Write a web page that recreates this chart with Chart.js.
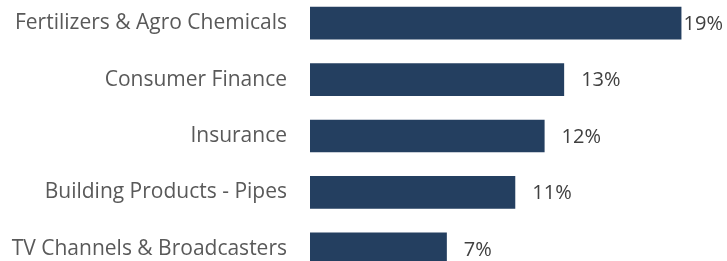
<!DOCTYPE html>
<html>
<head>
<meta charset="utf-8">
<script src="https://cdn.jsdelivr.net/npm/chart.js@4"></script>
<style>
    html, body { margin: 0; padding: 0; background: #fff; overflow: hidden; }
    #wrap { position: relative; width: 727px; height: 261px; overflow: hidden; }
    #chart { position: absolute; left: 0; top: -5px; }
</style>
</head>
<body>
<div id="wrap">
    <canvas id="chart" width="727" height="282"></canvas>
</div>
<script>
// ===== DATA =====
const categories = [
    'Fertilizers & Agro Chemicals',
    'Consumer Finance',
    'Insurance',
    'Building Products - Pipes',
    'TV Channels & Broadcasters'
];
const shares = [19.0, 13.0, 12.0, 10.5, 7.0];

const FONT = '"Open Sans", Lato, sans-serif';
const FONT_SIZE = 21;

// value labels next to each bar (pulled back inside when they would run off the edge)
const valueLabels = {
    id: 'valueLabels',
    afterDatasetsDraw(chart) {
        const ctx = chart.ctx;
        const meta = chart.getDatasetMeta(0);
        ctx.save();
        ctx.font = (FONT_SIZE - 1) + 'px ' + FONT;
        ctx.fillStyle = '#404040';
        ctx.textAlign = 'left';
        ctx.textBaseline = 'middle';
        meta.data.forEach((bar, i) => {
            const text = Math.round(shares[i]) + '%';
            const w = ctx.measureText(text).width;
            let x = bar.x + 17;
            if (x + w > chart.width - 4) x = chart.width - 4 - w;
            ctx.fillText(text, x, bar.y + 1);
        });
        ctx.restore();
    }
};

new Chart(document.getElementById('chart'), {
    type: 'bar',
    data: {
        labels: categories,
        datasets: [{
            data: shares,
            backgroundColor: '#243F60',
            borderWidth: 0,
            categoryPercentage: 1,
            barPercentage: 0.58
        }]
    },
    options: {
        indexAxis: 'y',
        responsive: false,
        devicePixelRatio: 1,
        animation: false,
        layout: { padding: 0 },
        plugins: {
            legend: { display: false },
            tooltip: { enabled: false }
        },
        scales: {
            x: {
                display: false,
                min: 0,
                max: 21.33
            },
            y: {
                grid: { display: false, drawTicks: false },
                border: { display: false },
                afterFit(scale) {
                    // fixed label column, and no extra top/bottom space from the tick padding
                    scale.width = 310;
                    scale.paddingTop = 0;
                    scale.paddingBottom = 0;
                },
                ticks: {
                    padding: 23,
                    color: '#595959',
                    font: { family: FONT, size: FONT_SIZE }
                }
            }
        }
    },
    plugins: [valueLabels]
});
</script>
</body>
</html>
